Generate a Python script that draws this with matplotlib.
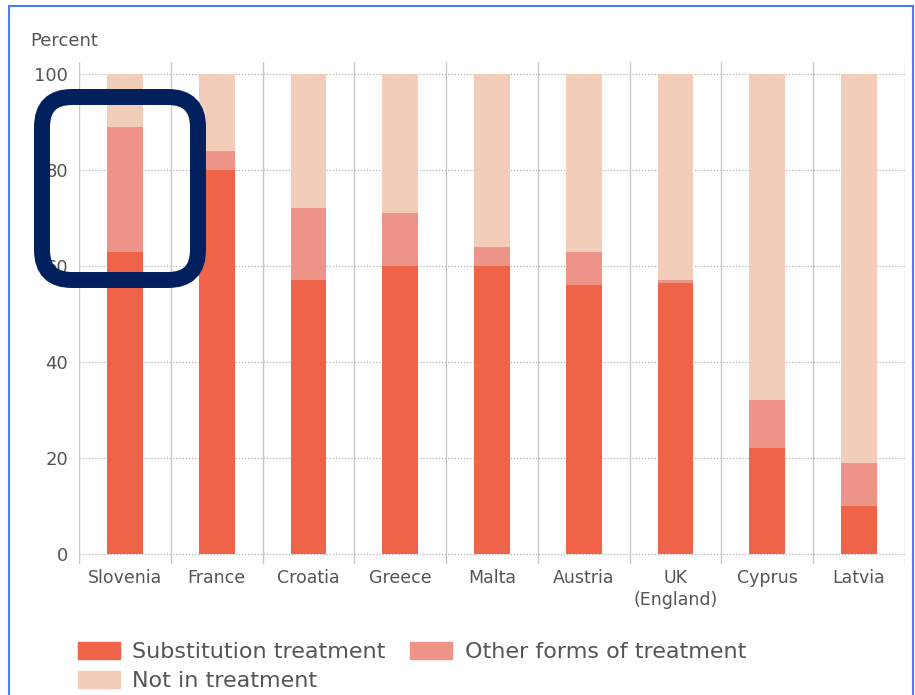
import matplotlib
matplotlib.use("Agg")
import matplotlib.pyplot as plt
import numpy as np
from matplotlib.patches import Rectangle, FancyBboxPatch, Patch

countries = ["Slovenia", "France", "Croatia", "Greece", "Malta", "Austria",
             "UK\n(England)", "Cyprus", "Latvia"]
substitution = [63, 80, 57, 60, 60, 56, 56.5, 22, 10]
other_forms = [26, 4, 15, 11, 4, 7, 0.5, 10, 9]
not_in_treatment = [11, 16, 28, 29, 36, 37, 43, 68, 81]
yticks = [0, 20, 40, 60, 80, 100]

c_sub = "#EF6348"
c_other = "#EE9388"
c_not = "#F2CDB9"
txt = "#555555"

plt.rcParams['font.family'] = ['DejaVu Sans']
fig = plt.figure(figsize=(9.15, 6.95), dpi=100)

# axes placement in pixels
px_per = 4.8
ymin, ymax = -2, 102.5
left_px, right_px = 79, 905
bottom_px = 554 + (0 - ymin) * px_per
height_px = (ymax - ymin) * px_per
ax = fig.add_axes([left_px / 915, 1 - bottom_px / 695,
                   (right_px - left_px) / 915, height_px / 695])

x = np.arange(len(countries))
w = 0.39
ax.bar(x, substitution, w, color=c_sub, zorder=3)
b1 = np.array(substitution)
ax.bar(x, other_forms, w, bottom=b1, color=c_other, zorder=3)
b2 = b1 + np.array(other_forms)
ax.bar(x, not_in_treatment, w, bottom=b2, color=c_not, zorder=3)

ax.set_xlim(-0.5, len(countries) - 0.5)
ax.set_ylim(ymin, ymax)
for yv in yticks:
    ax.axhline(yv, color="#b0b0b0", lw=0.9, ls=(0, (1, 1.5)), zorder=1)
for xv in np.arange(-0.5, len(countries), 1.0):
    ax.axvline(xv, color="#c8c8c8", lw=1.0, zorder=1)

for s in ax.spines.values():
    s.set_visible(False)
ax.set_yticks(yticks)
ax.set_yticklabels([str(v) for v in yticks], color=txt, fontsize=13)
ax.tick_params(axis="y", length=0, pad=8)
ax.set_xticks(x)
ax.set_xticklabels(countries, color=txt, fontsize=12.5, linespacing=1.3)
ax.tick_params(axis="x", length=0, pad=4)

fig.text(30 / 915, 1 - 41 / 695, "Percent", color=txt, fontsize=13, va="center", ha="left")

handles = [Patch(color=c_sub, label="Substitution treatment"),
           Patch(color=c_not, label="Not in treatment"),
           Patch(color=c_other, label="Other forms of treatment")]
fig.legend(handles=handles, ncol=2, loc="upper left",
           bbox_to_anchor=(78 / 915, 1 - 642 / 695), frameon=False,
           fontsize=16, handlelength=1.9, handleheight=0.77,
           handletextpad=0.55, columnspacing=1.1, labelspacing=0.42,
           labelcolor=txt, borderpad=0, borderaxespad=0)

# outer thin blue border
fig.patches.append(Rectangle((9 / 915, -0.01), (913 - 9) / 915, (695 - 6) / 695 + 0.01,
                             transform=fig.transFigure, fill=False,
                             edgecolor="#4d7cf5", lw=1.5, zorder=10))

# navy rounded highlight box (inches via dpi_scale_trans)
def px2in(xp, yp):
    return xp / 100, (695 - yp) / 100
x0, y0 = px2in(42, 280)
box = FancyBboxPatch((x0, y0), (198 - 42) / 100, (280 - 97) / 100,
                     boxstyle="round,pad=0,rounding_size=0.3",
                     transform=fig.dpi_scale_trans, fill=False,
                     edgecolor="#03205E", lw=11.5, zorder=20)
fig.patches.append(box)

fig.savefig("out.png", dpi=100)
